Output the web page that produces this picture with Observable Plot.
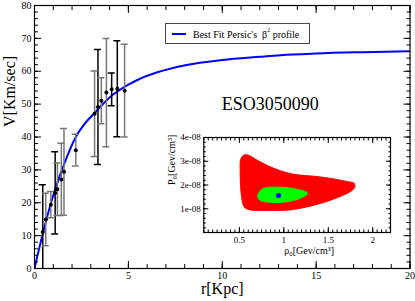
<!DOCTYPE html>
<html><head><meta charset="utf-8">
<script src="https://cdn.jsdelivr.net/npm/d3@7"></script>
<script src="https://cdn.jsdelivr.net/npm/@observablehq/plot@0.6"></script>
<style>
body{margin:0;background:#fff;}
#wrap{position:relative;width:415px;height:301px;font-family:"Liberation Serif",serif;}
#wrap > svg{position:absolute;}
#legend{position:absolute;left:165px;top:23px;width:145px;height:21px;border:1px solid #444;background:#fff;font-size:10px;box-sizing:border-box;}
#legend .sw{position:absolute;left:6px;top:9px;width:14px;height:2px;background:#0000ff;}
#legend .tx{position:absolute;left:27px;top:3px;white-space:nowrap;}
#legend sup{font-size:6px;vertical-align:6px;}
</style></head><body><div id="wrap"></div>
<script>
// Observed rotation curve
const radius   = [0.44, 0.60, 0.87, 1.10, 1.22, 1.43, 1.57, 2.20, 3.20, 3.38, 3.56, 3.83, 4.11, 4.41, 4.80];
const velocity = [11.1, 14.9, 19.4, 23.0, 24.1, 27.1, 29.4, 36.0, 47.1, 49.1, 51.0, 53.5, 54.5, 54.7, 54.1];
const errV     = [14.4, 8.0, 4.0, 12.5, 8.0, 11.0, 13.2, 4.8, 13.0, 17.5, 7.0, 16.5, 5.0, 14.6, 14.1];
const barColor = ["black","#777777","#777777","black","#777777","#777777","#777777","#777777","#777777","black","#777777","#777777","black","black","#777777"];
// Best fit curve
const fitR = [0, 0.42, 0.87, 1.3, 1.66, 2.2, 2.7, 3.2, 4.06, 5.0, 5.65, 6.5, 8.1, 10, 12, 13.1, 15, 17.5, 20];
const fitV = [0, 10.1, 19.8, 27.5, 33.0, 40.0, 44.2, 47.3, 52.3, 55.9, 57.8, 59.6, 61.9, 63.4, 64.4, 64.9, 65.4, 65.8, 66.1];
// Inset contours
const redRho = [0.555,0.611,0.707,0.858,1.085,1.39,1.616,1.72,1.786,1.80,1.767,1.616,1.39,1.085,0.82,0.611,0.555,0.525,0.509,0.517];
const redP   = [3.27,3.24,3.03,2.75,2.47,2.35,2.22,2.14,2.09,1.94,1.77,1.49,1.20,0.96,0.93,0.96,1.07,1.49,2.61,3.10];
const greenRho = [0.707,0.764,0.934,1.124,1.267,1.199,1.009,0.82,0.725];
const greenP   = [1.56,1.84,1.91,1.84,1.65,1.46,1.28,1.28,1.38];
const bestRho = [0.941];
const bestP = [1.56];
// Ticks
const xMajor = [0, 5, 10, 15, 20];
const yMajor = [0, 10, 20, 30, 40, 50, 60, 70, 80];
const insetXMajor = [0.5, 1, 1.5, 2];
const insetYMajor = [1e-8, 2e-8, 3e-8, 4e-8];

const pts = radius.map((r, i) => ({r, v: velocity[i], lo: velocity[i] - errV[i], hi: velocity[i] + errV[i], c: barColor[i]}));
const fit = fitR.map((r, i) => ({r, v: fitV[i]}));
const xMinor = d3.range(0, 20.01, 1);
const yMinor = d3.range(0, 80.01, 2);

const font = "Liberation Serif, serif";
const tickAxes = (axis, anchors, major, minor, big, small) => anchors.flatMap(a => [
  axis({anchor: a, ticks: minor, tickSize: -small, text: null, label: null}),
  axis({anchor: a, ticks: major, tickSize: -big, text: null, label: null})
]);

const main = Plot.plot({
  width: 415, height: 301,
  marginLeft: 34, marginRight: 5.5, marginTop: 5, marginBottom: 33,
  style: {fontFamily: font, background: "white", color: "black"},
  x: {domain: [0, 20]},
  y: {domain: [0, 80]},
  marks: [
    Plot.line(fit, {x: "r", y: "v", stroke: "#0000ff", strokeWidth: 2, curve: "monotone-x", clip: true}),
    Plot.ruleX(pts, {x: "r", y1: "lo", y2: "hi", stroke: "c", strokeWidth: 1.5, clip: true}),
    Plot.ruleY(pts, {y: "hi", x1: "r", x2: "r", insetLeft: -3.5, insetRight: -3.5, stroke: "c", strokeWidth: 1.5, clip: true}),
    Plot.ruleY(pts, {y: "lo", x1: "r", x2: "r", insetLeft: -3.5, insetRight: -3.5, stroke: "c", strokeWidth: 1.5, clip: true}),
    Plot.dot(pts, {x: "r", y: "v", r: 2, fill: "black"}),
    ...tickAxes(Plot.axisX, ["bottom", "top"], xMajor, xMinor, 7, 4),
    ...tickAxes(Plot.axisY, ["left", "right"], yMajor, yMinor, 7, 4),
    Plot.axisX({ticks: xMajor, tickSize: 0, tickPadding: 3, fontSize: 10, label: null}),
    Plot.axisY({ticks: yMajor, tickSize: 0, tickPadding: 3, fontSize: 10, label: null}),
    Plot.frame({stroke: "black", strokeWidth: 1.2}),
    Plot.text(["V[Km/sec]"], {frameAnchor: "left", dx: -25, dy: -10, rotate: -90, fontSize: 16}),
    Plot.text(["r[Kpc]"], {frameAnchor: "bottom", dy: 25, fontSize: 16}),
    Plot.text(["ESO3050090"], {frameAnchor: "top", dx: 48, dy: 91.5, fontSize: 18})
  ]
});
main.style.left = "0px"; main.style.top = "0px";
document.getElementById("wrap").appendChild(main);

const red = redRho.map((x, i) => ({x, y: redP[i] * 1e-8}));
const green = greenRho.map((x, i) => ({x, y: greenP[i] * 1e-8}));
const best = bestRho.map((x, i) => ({x, y: bestP[i] * 1e-8}));
const insetXMinor = d3.range(0.1, 2.2001, 0.05);
const insetYMinor = d3.range(0, 4.0001e-8, 0.2e-8);

const inset = Plot.plot({
  width: 240, height: 140,
  marginLeft: 43.3, marginRight: 10, marginTop: 12, marginBottom: 33,
  style: {fontFamily: font, background: "transparent", color: "black", overflow: "visible"},
  x: {domain: [0.1, 2.2]},
  y: {domain: [0, 4e-8]},
  marks: [
    Plot.frame({fill: "white"}),
    Plot.line(red, {x: "x", y: "y", fill: "#ff0000", stroke: "#ff0000", strokeWidth: 1, curve: "catmull-rom-closed"}),
    Plot.line(green, {x: "x", y: "y", fill: "#00ff00", stroke: "#00ff00", strokeWidth: 1, curve: "catmull-rom-closed"}),
    Plot.dot(best, {x: "x", y: "y", r: 2.5, fill: "#0000ff"}),
    ...tickAxes(Plot.axisX, ["bottom", "top"], insetXMajor, insetXMinor, 5, 2.5),
    ...tickAxes(Plot.axisY, ["left", "right"], insetYMajor, insetYMinor, 5, 2.5),
    Plot.axisX({ticks: insetXMajor, tickSize: 0, tickPadding: 4, fontSize: 9, label: null, tickFormat: d => String(d)}),
    Plot.axisY({ticks: insetYMajor, tickSize: 0, tickPadding: 3, fontSize: 9, label: null, tickFormat: d => Math.round(d / 1e-8) + "e-08"}),
    Plot.frame({stroke: "black", strokeWidth: 1.2}),
    Plot.text(["P₀[Gev/cm³]"], {frameAnchor: "left", dx: -32, rotate: -90, fontSize: 10}),
    Plot.text(["ρ₀[Gev/cm³]"], {frameAnchor: "bottom", dx: 12, dy: 21, fontSize: 10})
  ]
});
inset.style.left = "160px"; inset.style.top = "125px";
document.getElementById("wrap").appendChild(inset);

const leg = document.createElement("div");
leg.id = "legend";
leg.innerHTML = '<div class="sw"></div><div class="tx">Best Fit Persic\'s&nbsp; β<sup>2</sup> profile</div>';
document.getElementById("wrap").appendChild(leg);
</script></body></html>
